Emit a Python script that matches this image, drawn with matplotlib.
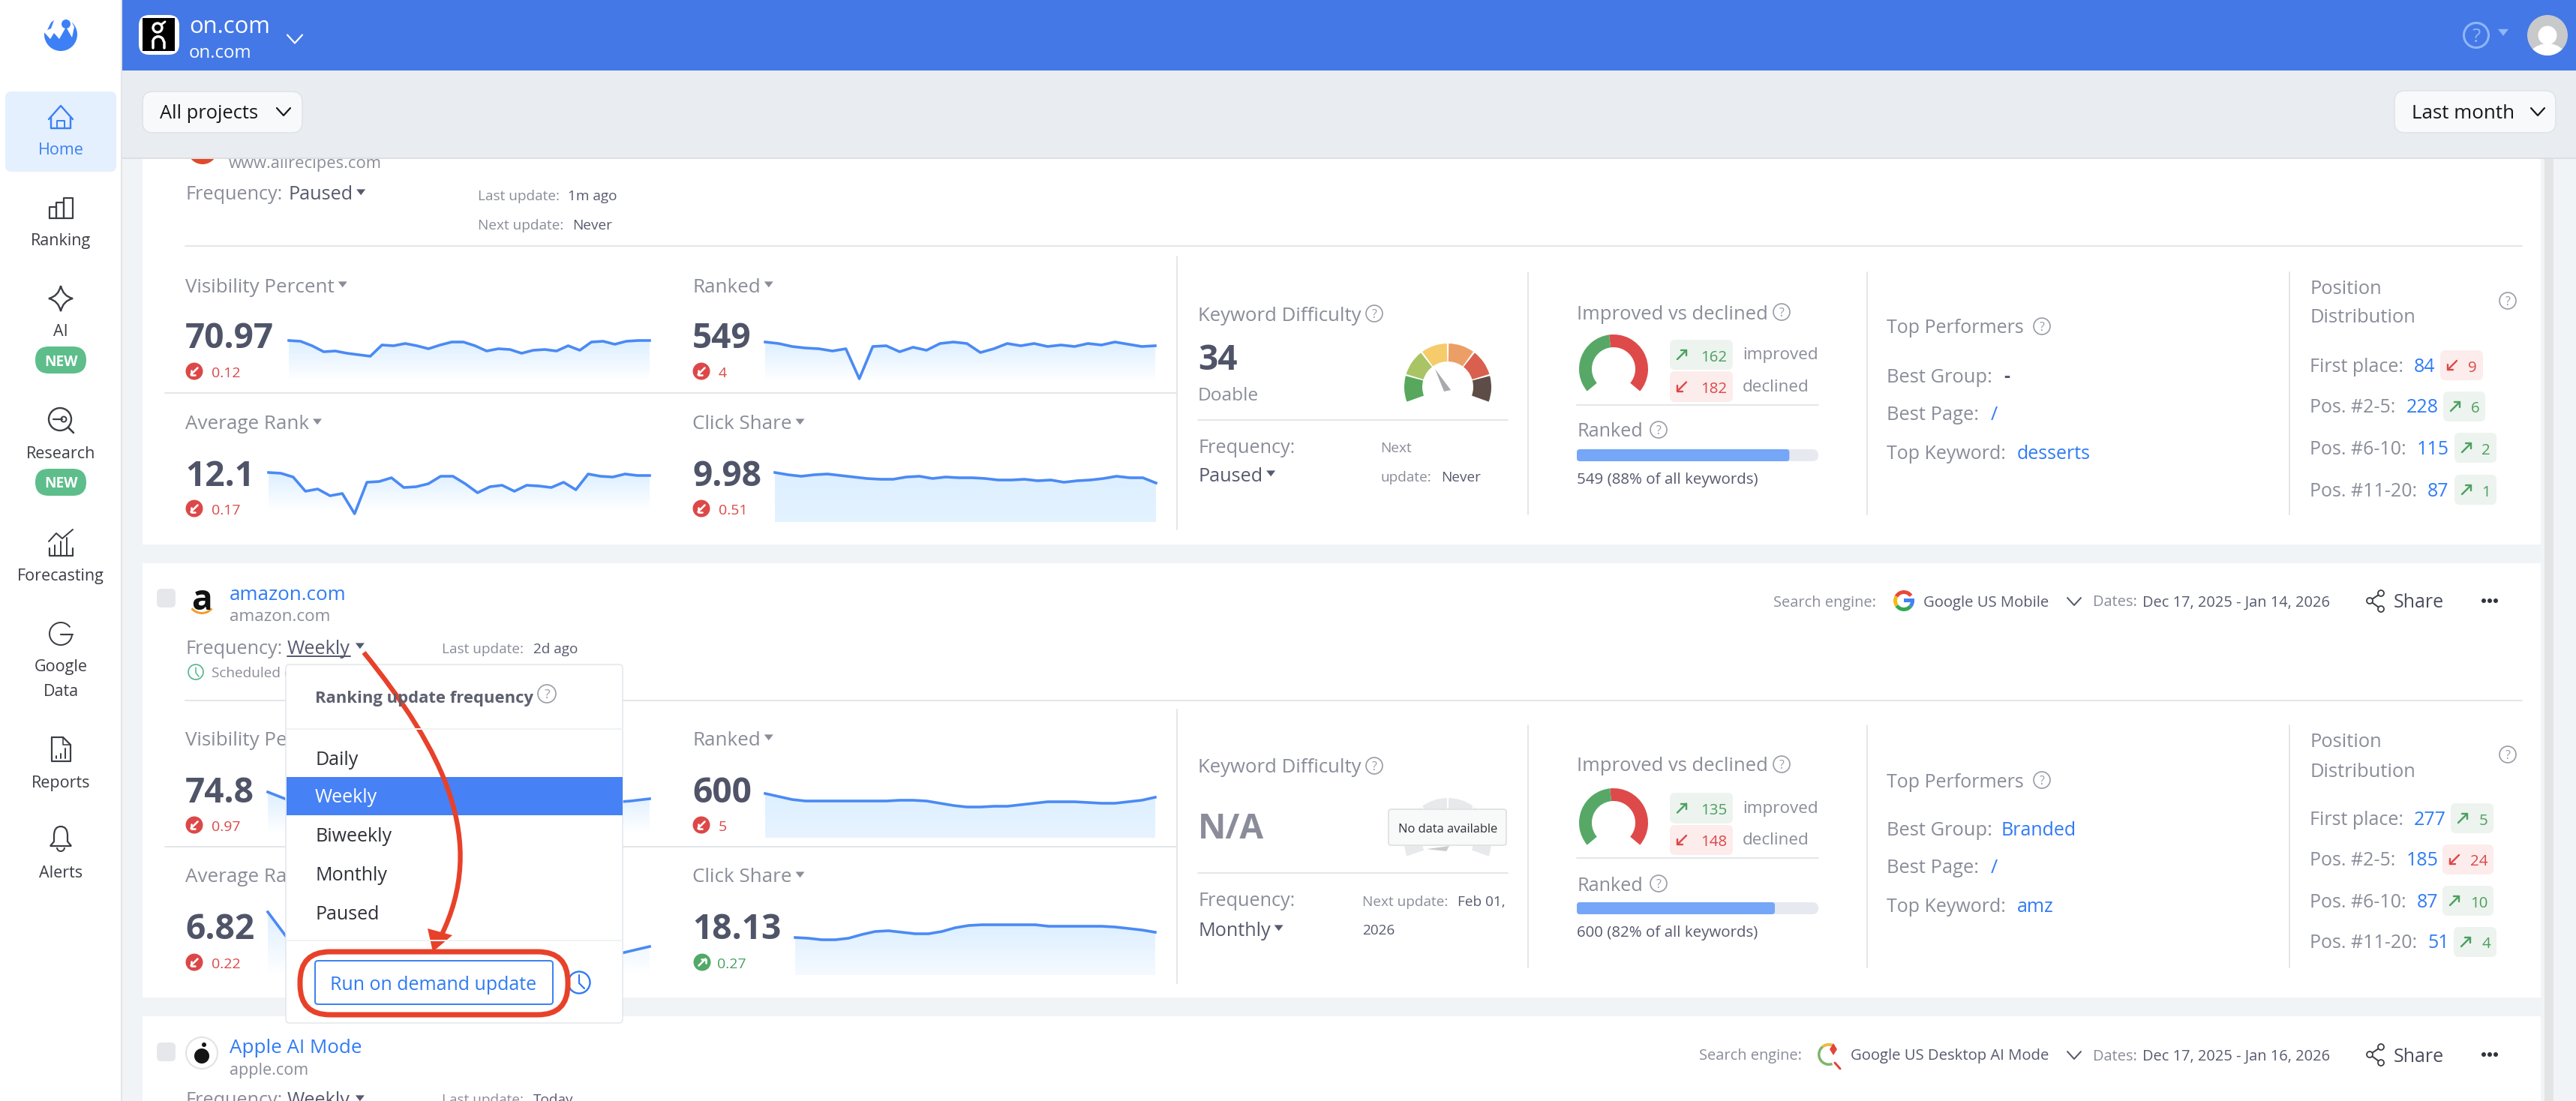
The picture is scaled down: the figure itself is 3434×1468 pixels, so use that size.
#!/usr/bin/env python3
import numpy as np
import matplotlib
matplotlib.use("Agg")
import matplotlib.pyplot as plt
from matplotlib.patches import FancyBboxPatch, Circle, Wedge, Polygon, PathPatch
from matplotlib.path import Path

plt.rcParams["font.family"] = ["Open Sans", "DejaVu Sans"]

W, H = 3434, 1468

# sparklines: height of the line above the bottom of the fill
vis1 = [53, 52, 46, 38, 39, 36, 34, 32, 47, 46, 49, 46, 42, 47, 51, 51, 46, 39, 42, 41,
        36, 40, 41, 39, 46, 40, 51, 52, 48, 52, 53, 53]
rank1 = [50, 49, 44, 25, 28, 19, 22, -5, 37, 38, 43, 30, 31, 35, 45, 45, 35, 23, 31, 33,
         25, 33, 32, 30, 37, 27, 48, 45, 44, 48, 46, 46]
ranked1 = [52, 50, 46, 44, 43, 40, 43, 3, 46, 47, 39, 45, 41, 50, 52, 50, 38, 43, 50, 47,
           50, 46, 48, 46, 50, 48, 52, 49, 46, 47]
click1 = [66, 63, 61, 63, 64, 62, 60, 58, 57, 57, 60, 61, 58, 60, 59, 59, 58, 56, 56, 57,
          55, 56, 53, 55, 56, 58, 61, 59, 59, 52]
vis2 = [55, 45, 42, 41, 40, 40, 39, 39, 38, 38, 38, 38, 38, 39, 39, 39, 40, 40, 41, 43, 46]
rank2 = [84, 50, 42, 38, 36, 34, 32, 30, 28, 26, 25, 24, 23, 22, 21, 21, 21, 22, 26, 32, 38]
ranked2 = [59, 55, 51, 49, 49, 49, 49, 49, 49, 49, 50, 50, 49, 46, 43, 41, 41, 42, 42, 44,
           46, 48, 48, 48, 47, 46, 46, 48, 50, 54]
click2 = [50, 49, 47, 47, 49, 54, 58, 59, 57, 55, 55, 58, 63, 66, 67, 67, 67, 67, 67, 65,
          65, 65, 65, 65, 64, 62, 60, 57]

# project data
projects = ["amazon.com", "Apple AI Mode"]
freq_options = ["Daily", "Weekly", "Biweekly", "Monthly", "Paused"]
pos_labels = ["First place:", "Pos. #2-5:", "Pos. #6-10:", "Pos. #11-20:"]
pos1 = [84, 228, 115, 87]
pos1_delta = [-9, 6, 2, 1]
pos2 = [277, 185, 87, 51]
pos2_delta = [5, -24, 10, 4]
improved = [162, 135]
declined = [182, 148]
ranked_pct = [88, 82]
gauge_segments = [1, 1, 1, 1, 1, 1]
gauge_colors = ["#57A85C", "#A9C464", "#F6CC6A", "#EB9F66", "#D9604F", "#5E4D47"]

GRAY = "#8A8D99"
DARK = "#565A6E"
NUM = "#4F5468"
RED = "#DC4848"
GREEN = "#4AA05F"
LINK = "#2F7BF5"
ICON = "#3C3E45"
LINE = "#E4E6E9"
LABEL = 25.3

fig = plt.figure(figsize=(W / 100, H / 100), dpi=100, facecolor="#F1F4F6")
ax = fig.add_axes([0, 0, 1, 1], zorder=0)
top = fig.add_axes([0, 0, 1, 1], zorder=5)
for a in (ax, top):
    a.set_xlim(0, W)
    a.set_ylim(H, 0)
    a.axis("off")
rend = fig.canvas.get_renderer()


def t(x, y, s, px=22, color=GRAY, weight="normal", ha="left", a=None, **kw):
    return (a or ax).text(x, y, s, fontsize=px * 0.72, color=color, fontweight=weight, ha=ha,
                          va="center_baseline", **kw)


def box(x0, y0, x1, y1, fc="white", ec="none", r=8, lw=1.0, a=None, **kw):
    p = FancyBboxPatch((x0, y0), x1 - x0, y1 - y0, boxstyle=f"round,pad=0,rounding_size={r}",
                       fc=fc, ec=ec, lw=lw * 0.72, **kw)
    (a or ax).add_patch(p)
    return p


def rect(x0, y0, x1, y1, fc, a=None):
    (a or ax).fill([x0, x1, x1, x0], [y0, y0, y1, y1], color=fc, lw=0)


def ln(xs, ys, color=LINE, lw=2, a=None, **kw):
    (a or ax).plot(xs, ys, color=color, lw=lw * 0.72, solid_capstyle="round", **kw)


def caret(x, y, color=GRAY, s=6, a=None):
    (a or ax).add_patch(Polygon([(x - s, y - s * 0.6), (x + s, y - s * 0.6), (x, y + s * 0.7)], fc=color, ec="none"))


def caret_after(txt, y, color=GRAY, gap=11):
    caret(txt.get_window_extent(rend).x1 + gap, y, color)


def chevron(x, y, s=10, color="#3A3C42", lw=2.5, a=None):
    ln([x - s, x, x + s], [y - s * 0.55, y + s * 0.55, y - s * 0.55], color, lw, a)


def help_icon(x, y, r=11, color="#9A9CA6", a=None):
    (a or ax).add_patch(Circle((x, y), r, fc="none", ec=color, lw=1.2))
    t(x, y, "?", px=r * 1.45, color=color, ha="center", a=a)


def arrow(x, y, up, color, s=6, lw=2.6):
    if up:
        ln([x - s, x + s], [y + s, y - s], color, lw)
        ln([x - s * 0.2, x + s, x + s], [y - s, y - s, y + s * 0.2], color, lw)
    else:
        ln([x + s, x - s], [y - s, y + s], color, lw)
        ln([x + s * 0.2, x - s, x - s], [y + s, y + s, y - s * 0.2], color, lw)


def delta_badge(x, y, up):
    color = "#52A867" if up else RED
    ax.add_patch(Circle((x, y), 11.5, fc=color, ec="none"))
    arrow(x, y, up, "white", 4.5, 2.6)


def wedge(cx, cy, r, a1, a2, width, fc, a=None, **kw):
    # angles read anticlockwise on screen, the axes have y pointing down
    (a or ax).add_patch(Wedge((cx, cy), r, -a2, -a1, width=width, fc=fc, ec="none", **kw))


def gauge(cx, cy, colors, alpha=1.0):
    span = 222 / sum(gauge_segments)
    start = -21
    for i, c in enumerate(colors[::-1]):
        wedge(cx, cy, 58, start + i * span + 1.2, start + (i + 1) * span - 1.2, 24, c, alpha=alpha)


def donut(cx, cy, good, bad):
    total = good + bad
    split = -40 + 260 * bad / total
    wedge(cx, cy, 46, -40, split, 17, "#DE4A4A")
    wedge(cx, cy, 46, split, 220, 17, "#57A866")


def spark(x0, x1, base, vals, end_alpha=0.0):
    a = fig.add_axes([x0 / W, 1 - (base + 10) / H, (x1 - x0) / W, 110 / H], zorder=1)
    a.axis("off")
    xs = np.arange(len(vals))
    hull = a.fill_between(xs, vals, 0, color="none")
    g = np.ones((64, 1, 4))
    g[:, :, :3] = (0.87, 0.94, 1.0)
    g[:, 0, 3] = np.linspace(end_alpha, 1.0, 64)
    im = a.imshow(g, extent=[0, len(vals) - 1, 0, max(vals)], aspect="auto", origin="lower", zorder=1)
    im.set_clip_path(hull.get_paths()[0], a.transData)
    a.plot(xs, vals, color="#4A8AF4", lw=2.6, solid_joinstyle="round", zorder=2, clip_on=False)
    a.set_xlim(0, len(vals) - 1)
    a.set_ylim(-10, 100)


def metric(x, yl, yn, yd, label, num, delta, up):
    caret_after(t(x, yl, label, 26), yl - 1)
    t(x, yn, num, 46, NUM, "bold")
    delta_badge(x + 13 if up else x + 12, yd, up)
    t(x + 33 if up else x + 35, yd + 1, delta, 19.5, "#4AA05F" if up else RED)


def status_badge(x0, x1, y0, y1, val):
    up = val > 0
    rect_c = "#EDF3EE" if up else "#FCECEC"
    c = "#4AA05F" if up else RED
    box(x0, y0, x1, y1, fc=rect_c, r=7)
    arrow(x0 + 16, (y0 + y1) / 2, up, c, 6, 2.4)
    t(x1 - 8, (y0 + y1) / 2 + 1, str(abs(val)), 20.5, c, ha="right")


def positions(rows_y, valx, badges, vals, deltas):
    for y, lab, x, (b0, b1), v, d in zip(rows_y, pos_labels, valx, badges, vals, deltas):
        t(3079, y, lab, 25)
        t(x, y, str(v), 25, LINK)
        status_badge(b0, b1, y - 19, y + 21, d)


def share(y):
    for px, py in [(3174, y - 10), (3159, y), (3174, y + 11)]:
        ax.add_patch(Circle((px, py), 4, fc="white", ec=ICON, lw=1.3, zorder=3))
    ln([3174, 3159, 3174], [y - 10, y, y + 11], ICON, 2)
    t(3191, y, "Share", 25, "#4A4D5C")
    for dx in (-8, 0, 8):
        ax.add_patch(Circle((3319 + dx, y), 3, fc="#33353C", ec="none"))


def google_g(cx, cy):
    wedge(cx, cy, 14, 35, 150, 5, "#E9483A")
    wedge(cx, cy, 14, 150, 215, 5, "#F5BA14")
    wedge(cx, cy, 14, 215, 320, 5, "#34A853")
    wedge(cx, cy, 14, 320, 360, 5, "#4283F4")
    rect(cx, cy - 3, cx + 14, cy + 2, "#4283F4")


# sidebar
rect(0, 0, 162, H, "white")
rect(161, 0, 163, H, "#E1E4E8")
ax.add_patch(Circle((81, 46), 22, fc="#3D80F5", ec="none"))
ax.add_patch(Polygon([(57, 41), (67, 52), (72, 44), (79, 52), (88, 36), (96, 50), (99, 36), (92, 22), (60, 22)],
                     fc="white", ec="none"))
ax.add_patch(Circle((88, 32), 6, fc="#3D80F5", ec="none"))
ax.add_patch(Polygon([(63, 40), (68, 30), (72, 27), (68, 38)], fc="#3D80F5", ec="none"))

box(7, 122, 155, 229, fc="#E4F0FD", r=8)
ln([65, 81, 97], [159, 141, 159], "#3D80F5", 2.4)
ln([68, 68, 94, 94], [156, 171, 171, 156], "#3D80F5", 2.4)
ln([76, 76, 86, 86], [171, 161, 161, 171], "#3D80F5", 2)
t(81, 198, "Home", 21.5, "#3D80F5", ha="center")

ln([66, 66, 75, 75, 66], [291, 276, 276, 291, 291], ICON, 2.2)
ln([75, 75, 85, 85, 75], [291, 270, 270, 291, 291], ICON, 2.2)
ln([85, 85, 97, 97, 85], [291, 264, 264, 291, 291], ICON, 2.2)
t(81, 319, "Ranking", 21.5, ICON, ha="center")

star = Path([(81, 381), (84, 395), (97, 398), (84, 401), (81, 415), (78, 401), (65, 398), (78, 395), (81, 381)],
            [Path.MOVETO] + [Path.CURVE3] * 8)
ax.add_patch(PathPatch(star, fc="none", ec=ICON, lw=1.7))
t(81, 440, "AI", 21.5, ICON, ha="center")
box(47, 462, 115, 498, fc="#5DBE8B", r=18)
t(81, 480, "NEW", 19, "white", "bold", ha="center")

ax.add_patch(Circle((80, 559), 15, fc="none", ec=ICON, lw=1.7))
ln([91, 98], [570, 577], ICON, 2.6)
ln([71, 83], [559, 559], ICON, 2.2)
ax.add_patch(Circle((85, 559), 3.5, fc="none", ec=ICON, lw=1.4))
t(81, 603, "Research", 21.5, ICON, ha="center")
box(47, 625, 115, 661, fc="#5DBE8B", r=18)
t(81, 643, "NEW", 19, "white", "bold", ha="center")

ln([66, 66, 97, 97], [731, 741, 741, 731], ICON, 2.2)
for bx, by in [(73, 727), (81, 722), (89, 717)]:
    ln([bx, bx], [by, 741], ICON, 2)
ln([65, 75, 83, 97], [722, 711, 718, 706], ICON, 2)
t(81, 766, "Forecasting", 21.5, ICON, ha="center")

wedge(81, 845, 16, 35, 358, 2, ICON)
ln([81, 97], [846, 846], ICON, 2.2)
t(81, 887, "Google", 21.5, ICON, ha="center")
t(81, 920, "Data", 21.5, ICON, ha="center")

ln([69, 84, 94, 94, 69, 69], [983, 983, 993, 1015, 1015, 983], ICON, 2.2)
ln([84, 84, 94], [983, 993, 993], ICON, 1.6)
for bx, by in [(75, 1008), (81, 1005), (87, 998)]:
    ln([bx, bx], [by, 1011], ICON, 2)
t(81, 1042, "Reports", 21.5, ICON, ha="center")

bell = Path([(67, 1128), (72, 1122), (72, 1114), (72, 1102), (81, 1102), (90, 1102), (90, 1114), (90, 1122), (95, 1128), (67, 1128)],
            [Path.MOVETO, Path.LINETO, Path.LINETO, Path.CURVE3, Path.CURVE3, Path.CURVE3, Path.CURVE3, Path.LINETO, Path.LINETO, Path.CLOSEPOLY])
ax.add_patch(PathPatch(bell, fc="none", ec=ICON, lw=1.6))
wedge(81, 1130, 6, 180, 360, 2, ICON)
t(81, 1162, "Alerts", 21.5, ICON, ha="center")

# cards
rect(190, 205, 3387, 726, "white")
rect(190, 751, 3387, 1330, "white")
rect(190, 1355, 3387, H, "white")
rect(3392, 205, 3404, H, "#E2E4E6")

# first card, scrolled under the top bar
ax.add_patch(Circle((270, 199), 20, fc="#E0492C", ec="none"))
t(305, 216, "www.allrecipes.com", 22)
t(247, 257, "Frequency:", LABEL)
caret_after(t(384, 257, "Paused", LABEL, DARK), 256, DARK)
t(637, 260, "Last update:", 19)
t(757, 260, "1m ago", 19, DARK)
t(637, 299, "Next update:", 19)
t(763, 299, "Never", 19, DARK)
ln([247, 3362], [328, 328])

metric(247, 380, 446, 495, "Visibility Percent", "70.97", "0.12", False)
metric(247, 563, 630, 678, "Average Rank", "12.1", "0.17", False)
metric(923, 380, 446, 495, "Ranked", "549", "4", False)
metric(923, 563, 630, 678, "Click Share", "9.98", "0.51", False)
ln([220, 1569], [524, 524])
spark(385, 866, 507, vis1)
spark(358, 866, 680, rank1)
spark(1020, 1540, 508, ranked1)
spark(1033, 1541, 696, click1, 0.8)

ln([1569, 1569], [342, 706])
t(1597, 418, "Keyword Difficulty", 25.7)
help_icon(1832, 418)
t(1597, 475, "34", 46, NUM, "bold")
t(1597, 525, "Doable", 24.5)
gauge(1930, 516, gauge_colors)
ax.add_patch(Polygon([(1913, 492), (1925, 522), (1934, 520)], fc="#A8AAAE", ec="none"))
ln([1597, 2010], [560, 560])
t(1597, 594, "Frequency:", LABEL)
caret_after(t(1597, 632, "Paused", LABEL, DARK), 631, DARK)
t(1840, 596, "Next", 19)
t(1840, 635, "update:", 19)
t(1921, 635, "Never", 19, DARK)

ln([2037, 2037], [363, 686])
t(2102, 416, "Improved vs declined", 25.6)
help_icon(2375, 416)
donut(2151, 492, improved[0], declined[0])
status_badge(2226, 2310, 453, 493, improved[0])
status_badge(2226, 2310, 495, 536, -declined[0])
t(2323, 471, "improved", 22.5)
t(2323, 514, "declined", 22.5)
ln([2102, 2424], [540, 540])
t(2102, 573, "Ranked", LABEL)
help_icon(2211, 573)
box(2102, 599, 2424, 615, fc="#E6E9EF", r=8)
box(2102, 599, 2102 + 322 * ranked_pct[0] / 100, 615, fc="#75A6F7", r=4)
t(2102, 637, f"549 ({ranked_pct[0]}% of all keywords)", 20.5, DARK)

ln([2489, 2489], [363, 686])
t(2515, 435, "Top Performers", 25)
help_icon(2722, 435)
t(2515, 500, "Best Group:", 25.5)
t(2671, 500, "-", 25, DARK, "bold")
t(2515, 550, "Best Page:", 25.5)
t(2654, 550, "/", 25, LINK)
t(2515, 602, "Top Keyword:", 25)
t(2689, 602, "desserts", 25, LINK)

ln([3052, 3052], [363, 686])
t(3079, 383, "Position", 25.5)
t(3079, 421, "Distribution", 25.5)
help_icon(3343, 401)
positions([486, 541, 596, 652], [3218, 3208, 3222, 3236],
          [(3253, 3310), (3257, 3313), (3272, 3328), (3272, 3328)], pos1, pos1_delta)

# second card
box(209, 785, 234, 810, fc="#E5E7EA", r=6)
t(269, 795, "a", 46, "#111111", "bold", ha="center")
ax.add_patch(Wedge((269, 800), 19, 40, 140, width=3, fc="#F39C2C", ec="none"))
t(306, 791, projects[0], 26, LINK)
t(306, 820, "amazon.com", 22.5)
t(247, 862, "Frequency:", LABEL)
wk = t(383, 862, "Weekly", LABEL, DARK)
ln([383, 467], [875, 875], DARK, 2)
caret_after(wk, 861, DARK, 13)
t(589, 864, "Last update:", 19)
t(711, 864, "2d ago", 19, DARK)
ax.add_patch(Circle((261, 896), 10, fc="none", ec="#52B58A", lw=1.2))
ln([261, 261, 265], [890, 897, 902], "#52B58A", 1.5)
t(282, 896, "Scheduled on", 19)
ln([247, 3362], [934, 934])

metric(247, 984, 1052, 1100, "Visibility Percent", "74.8", "0.97", False)
metric(247, 1167, 1234, 1283, "Average Rank", "6.82", "0.22", False)
metric(923, 984, 1052, 1100, "Ranked", "600", "5", False)
metric(923, 1167, 1234, 1283, "Click Share", "18.13", "0.27", True)
ln([220, 1569], [1129, 1129])
spark(357, 866, 1111, vis2)
spark(357, 866, 1300, rank2, 0.0)
spark(1020, 1540, 1117, ranked2, 0.7)
spark(1060, 1540, 1300, click2, 0.3)

ln([1569, 1569], [946, 1311])
t(1597, 1021, "Keyword Difficulty", 25.7)
help_icon(1832, 1021)
t(1597, 1100, "N/A", 46, "#8A8D99", "bold")
gauge(1930, 1122, ["#E8E9EB"] * 6)
ax.add_patch(Polygon([(1902, 1132), (1932, 1128), (1928, 1135)], fc="#C9CBCE", ec="none", zorder=2))
box(1851, 1079, 2008, 1127, fc="#F8F9F9", ec="#E2E3E5", r=4, lw=2, zorder=3)
t(1930, 1104, "No data available", 16.5, "#2E3036", ha="center", zorder=4)
ln([1597, 2010], [1164, 1164])
t(1597, 1199, "Frequency:", LABEL)
caret_after(t(1597, 1238, "Monthly", LABEL, DARK), 1237, DARK)
t(1816, 1201, "Next update:", 19)
t(1943, 1201, "Feb 01,", 19, DARK)
t(1816, 1239, "2026", 19, DARK)

ln([2037, 2037], [967, 1290])
t(2102, 1019, "Improved vs declined", 25.6)
help_icon(2375, 1019)
donut(2151, 1097, improved[1], declined[1])
status_badge(2226, 2310, 1057, 1098, improved[1])
status_badge(2226, 2310, 1100, 1140, -declined[1])
t(2323, 1076, "improved", 22.5)
t(2323, 1118, "declined", 22.5)
ln([2102, 2424], [1144, 1144])
t(2102, 1178, "Ranked", LABEL)
help_icon(2211, 1178)
box(2102, 1203, 2424, 1219, fc="#E6E9EF", r=8)
box(2102, 1203, 2102 + 322 * ranked_pct[1] / 100, 1219, fc="#75A6F7", r=4)
t(2102, 1241, f"600 ({ranked_pct[1]}% of all keywords)", 20.5, DARK)

ln([2489, 2489], [967, 1290])
t(2515, 1040, "Top Performers", 25)
help_icon(2722, 1040)
t(2515, 1104, "Best Group:", 25.5)
t(2667, 1104, "Branded", 25, LINK)
t(2515, 1155, "Best Page:", 25.5)
t(2654, 1155, "/", 25, LINK)
t(2515, 1206, "Top Keyword:", 25)
t(2689, 1206, "amz", 25, LINK)

ln([3052, 3052], [967, 1290])
t(3079, 987, "Position", 25.5)
t(3079, 1026, "Distribution", 25.5)
help_icon(3343, 1006)
positions([1090, 1145, 1200, 1255], [3218, 3208, 3222, 3236],
          [(3267, 3324), (3256, 3324), (3256, 3324), (3271, 3328)], pos2, pos2_delta)

t(2364, 801, "Search engine:", 20)
google_g(2538, 801)
t(2564, 802, "Google US Mobile", 20.3, DARK)
chevron(2765, 802, 9, "#55586A", 2)
t(2790, 801, "Dates:", 20)
t(2856, 801, "Dec 17, 2025 - Jan 14, 2026", 20, DARK)
share(801)

# third card
box(209, 1390, 234, 1415, fc="#E5E7EA", r=6)
ax.add_patch(Circle((269, 1404), 21, fc="white", ec="#E2E3E5", lw=1.5))
ax.add_patch(Circle((269, 1408), 10, fc="#151515", ec="none"))
ax.add_patch(Circle((272, 1393), 3, fc="#151515", ec="none"))
t(306, 1395, projects[1], 26, LINK)
t(306, 1425, "apple.com", 21.5)
t(247, 1465, "Frequency:", LABEL)
caret_after(t(383, 1465, "Weekly", LABEL, DARK), 1464, DARK, 13)
t(589, 1465, "Last update:", 19)
t(711, 1465, "Today", 19, DARK)

t(2265, 1406, "Search engine:", 20)
wedge(2438, 1406, 15, 60, 290, 3.5, "#7DB66A")
wedge(2438, 1406, 15, 60, 130, 3.5, "#F0BE3C")
ax.add_patch(Polygon([(2444, 1391), (2449, 1399), (2444, 1407), (2439, 1399)], fc="#E5443A", ec="none"))
ln([2446, 2453], [1417, 1425], "#E5443A", 3)
t(2467, 1406, "Google US Desktop AI Mode", 20.3, DARK)
chevron(2765, 1407, 9, "#55586A", 2)
t(2790, 1406, "Dates:", 20)
t(2856, 1406, "Dec 17, 2025 - Jan 16, 2026", 20, DARK)
share(1406)

# header bars, on top of the scrolled card
rect(163, 94, W, 211, "#E9ECF0", top)
ln([163, W], [211, 211], "#DDDFE3", 2, top)
rect(163, 0, W, 94, "#4478E6", top)
box(185, 20, 239, 73, fc="white", r=14, a=top)
rect(190, 24, 233, 68, "black", top)
top.add_patch(Circle((210, 37), 6, fc="none", ec="white", lw=2.4))
ln([216, 220], [32, 29], "white", 3, top)
wedge(211, 56, 9, 0, 180, 3.5, "white", a=top)
ln([203.5, 203.5], [56, 64], "white", 3.5, top)
ln([218.5, 218.5], [56, 64], "white", 3.5, top)
t(252, 33, "on.com", 31, "white", a=top)
t(252, 68, "on.com", 24, "white", a=top)
chevron(393, 52, 10, "white", 2.2, top)
top.add_patch(Circle((3301, 47), 16.5, fc="none", ec="#8FB6FA", lw=2.2))
t(3301, 47, "?", 26, "#8FB6FA", ha="center", a=top)
caret(3337, 43, "#8FB6FA", 7, top)
top.add_patch(Circle((3396, 47), 27, fc="#C8C9CB", ec="none"))
avatar = Circle((3396, 47), 27, transform=top.transData)
head = Circle((3396, 47), 12.5, fc="white", ec="none")
body = Wedge((3396, 88), 30, 180, 360, fc="white", ec="none")
top.add_patch(head)
top.add_patch(body)
body.set_clip_path(avatar)
box(190, 122, 403, 177, fc="#F8F9FA", ec="#E0E2E6", r=14, lw=1.5, a=top)
t(213, 149, "All projects", 25.5, "#17181C", a=top)
chevron(378, 149, 9, "#17181C", 2.2, top)
box(3192, 121, 3407, 177, fc="#F8F9FA", ec="#E0E2E6", r=14, lw=1.5, a=top)
t(3215, 149, "Last month", 26, "#17181C", a=top)
chevron(3383, 149, 9, "#17181C", 2.2, top)

# frequency popup
box(381, 886, 830, 1364, fc="white", ec="#E3E6EA", r=5, lw=1.5, a=top)
t(420, 929, "Ranking update frequency", 22, "#5D6070", "bold", a=top)
help_icon(729, 925, 12, a=top)
ln([382, 830], [972, 972], "#F0F1F3", 2, top)
rect(382, 1036, 830, 1087, "#4681F5", top)
for y, opt in zip([1010, 1060, 1113, 1165, 1216], freq_options):
    t(420, y, opt, 25, "white" if opt == "Weekly" else "#2F3138", a=top)
ln([382, 830], [1254, 1254], "#F0F1F3", 2, top)
box(420, 1281, 737, 1339, fc="white", ec="#3E82F2", r=4, lw=2, a=top)
t(578, 1310, "Run on demand update", 25, "#2F7BF5", ha="center", a=top)
top.add_patch(Circle((772, 1310), 14.5, fc="none", ec="#2F7BF5", lw=1.7))
ln([772, 772, 779], [1300, 1311, 1318], "#2F7BF5", 2.2, top)

# red callout
box(400, 1269, 757, 1353, fc="none", ec="#E8412A", r=40, lw=7, a=top)
curve = Path([(485, 870), (590, 1000), (652, 1120), (587, 1250)], [Path.MOVETO, Path.CURVE4, Path.CURVE4, Path.CURVE4])
top.add_patch(PathPatch(curve, fc="none", ec="#E8412A", lw=4.6))
top.add_patch(Polygon([(577, 1269), (570, 1238), (603, 1247)], fc="#E8412A", ec="none"))

fig.savefig("out.png", dpi=100, facecolor=fig.get_facecolor())
